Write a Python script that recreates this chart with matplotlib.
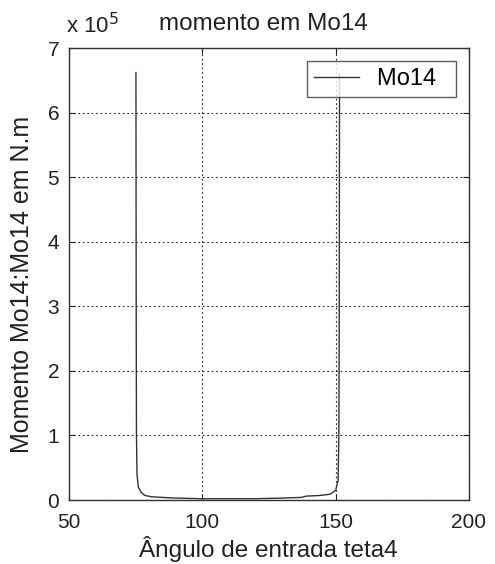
import matplotlib
matplotlib.use("Agg")
import matplotlib.pyplot as plt
import numpy as np

# Input angle teta4 (degrees) and moment Mo14 (N.m)
teta4 = [75.1, 75.2, 75.3, 75.5, 76.0, 77.0, 78.5, 81.0, 85.0, 90.0, 100.0,
         110.0, 120.0, 130.0, 137.0, 139.0, 144.0, 148.0, 150.0, 150.9,
         151.2, 151.35, 151.45]
mo14 = [6.62e5, 3.0e5, 1.0e5, 0.4e5, 0.2e5, 0.12e5, 0.07e5, 0.05e5, 0.04e5,
        0.03e5, 0.02e5, 0.02e5, 0.02e5, 0.03e5, 0.04e5, 0.06e5, 0.07e5,
        0.09e5, 0.15e5, 0.3e5, 1.0e5, 3.0e5, 6.6e5]

xticks = [50, 100, 150, 200]
yticks = [0, 1, 2, 3, 4, 5, 6, 7]
scale = 1e5

plt.rcParams['font.family'] = ['Liberation Sans', 'DejaVu Sans']
ink = '#222222'

fig = plt.figure(figsize=(4.95, 5.64), dpi=100)
ax = fig.add_axes([69 / 495, 64 / 564, 400 / 495, 452 / 564])

ax.plot(teta4, np.array(mo14) / scale, color='#333333', lw=1.0, label='Mo14  ')

ax.set_xlim(50, 200)
ax.set_ylim(0, 7)
ax.set_xticks(xticks)
ax.set_yticks(yticks)
ax.tick_params(axis='x', direction='in', top=True, labelsize=15, length=4,
               pad=9, colors=ink)
ax.tick_params(axis='y', direction='in', right=True, labelsize=15, length=4,
               pad=7, colors=ink)
ax.grid(True, linestyle=(0, (1.5, 2.5)), color=ink, lw=0.8)
for s in ax.spines.values():
    s.set_color('#333333')
    s.set_linewidth(1.0)

fig.text(268 / 495, 1 - 549 / 564, 'Ângulo de entrada teta4', fontsize=17.5,
         color=ink, ha='center', va='center')
fig.text(22 / 495, 1 - 284 / 564, 'Momento Mo14:Mo14 em N.m', fontsize=18,
         color=ink, ha='center', va='center', rotation=90)
fig.text(263 / 495, 1 - 24 / 564, 'momento em Mo14', fontsize=17.5,
         color=ink, ha='center', va='center')
fig.text(66 / 495, 1 - 26 / 564, r'x 10$^5$', fontsize=16, color=ink,
         va='center', ha='left')

leg = ax.legend(loc='upper right', fontsize=17, frameon=True, fancybox=False,
                borderaxespad=0.55, handlelength=1.9, handletextpad=0.75,
                borderpad=0.3)
leg.get_frame().set_edgecolor('#333333')
leg.get_frame().set_linewidth(1.0)

fig.savefig('out.png', dpi=100)
